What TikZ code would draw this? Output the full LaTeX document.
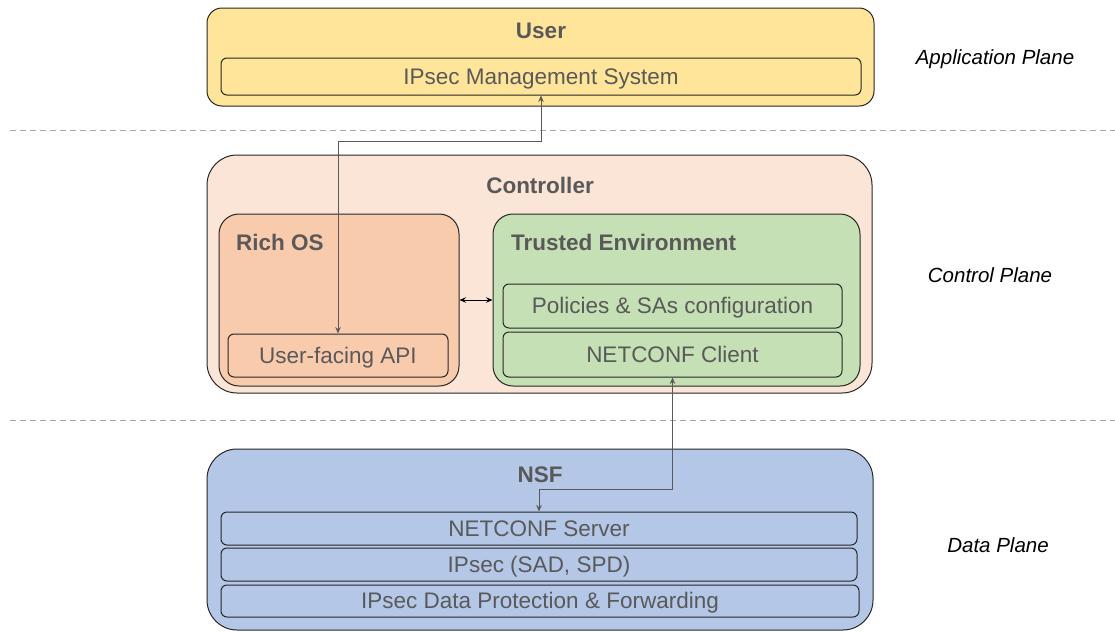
\documentclass[tikz,border=0pt]{standalone}
\usepackage{fontspec}
\setmainfont{Liberation Sans}
\usetikzlibrary{arrows.meta}
\definecolor{txt}{HTML}{595959}
\definecolor{bord}{HTML}{262626}
\definecolor{cyel}{HTML}{FFE599}
\definecolor{cpeach}{HTML}{FBE5D6}
\definecolor{crich}{HTML}{F8CBAD}
\definecolor{cgreen}{HTML}{C5E0B4}
\definecolor{cblue}{HTML}{B4C7E7}
\definecolor{cdash}{HTML}{A6A6A6}
\tikzset{
  box/.style={draw=bord, line width=1pt, inner sep=0pt, text=txt},
  inbox/.style={box, rounded corners=6pt, text height=16pt, text depth=1pt, font=\fontsize{22.5}{26}\selectfont},
  title/.style={text=txt, inner sep=0pt, font=\fontsize{22.5}{26}\selectfont\bfseries},
  plane/.style={text=black, inner sep=0pt, font=\fontsize{20.5}{24}\selectfont\itshape},
  conn/.style={draw=txt, line width=0.9pt, {Stealth[length=6.5pt,width=5.5pt]}-{Stealth[length=6.5pt,width=5.5pt]}},
  sep/.style={draw=cdash, line width=1pt, dash pattern=on 6pt off 4pt}
}
\begin{document}
\begin{tikzpicture}[x=1pt,y=-1pt]
\useasboundingbox (0,0) rectangle (1115,632);
% separators
\coordinate (s1a) at (10,130); \coordinate (s1b) at (1115,130);
\coordinate (s2a) at (10,420); \coordinate (s2b) at (1115,420);
\draw[sep] (s1a) -- (s1b);
\draw[sep] (s2a) -- (s2b);
% application plane
\node[box, fill=cyel, rounded corners=15pt, minimum width=667pt, minimum height=98pt] (user) at (540.5,57) {};
\node[title] (usert) at (541,31) {User};
\node[inbox, fill=cyel, minimum width=640pt, minimum height=37pt] (mgmt) at (541,76.5) {IPsec Management System};
\node[plane] (ap) at (995,59) {Application Plane};
% control plane
\node[box, fill=cpeach, rounded corners=30pt, minimum width=665pt, minimum height=238pt] (ctrl) at (539.5,274) {};
\node[title] (ctrlt) at (540,185) {Controller};
\node[box, fill=crich, rounded corners=20pt, minimum width=240pt, minimum height=172pt] (rich) at (339,300) {};
\node[title, anchor=west] (richt) at (236,242) {Rich OS};
\node[inbox, fill=crich, minimum width=220pt, minimum height=43pt] (api) at (338,355.5) {User-facing API};
\node[box, fill=cgreen, rounded corners=20pt, minimum width=367pt, minimum height=172pt] (trust) at (676.5,300) {};
\node[title, anchor=west] (trustt) at (511,242) {Trusted Environment};
\node[inbox, fill=cgreen, minimum width=339pt, minimum height=44pt] (pol) at (672.5,306) {Policies \& SAs configuration};
\node[inbox, fill=cgreen, minimum width=339pt, minimum height=45pt] (ncli) at (672.5,354.5) {NETCONF Client};
\node[plane] (cp) at (990,275) {Control Plane};
% data plane
\node[box, fill=cblue, rounded corners=30pt, minimum width=666pt, minimum height=181pt] (nsf) at (540,539.5) {};
\node[title] (nsft) at (540,475) {NSF};
\node[inbox, fill=cblue, minimum width=636pt, minimum height=33pt] (nsrv) at (539,528.5) {NETCONF Server};
\node[inbox, fill=cblue, minimum width=636pt, minimum height=33pt] (ipsec) at (539,564.5) {IPsec (SAD, SPD)};
\node[inbox, fill=cblue, minimum width=638pt, minimum height=32pt] (fwd) at (540,601) {IPsec Data Protection \& Forwarding};
\node[plane] (dp) at (998,545) {Data Plane};
% connectors
\coordinate (b1) at (0,141);
\coordinate (b2) at (0,489);
\draw[conn] (api.north) -- (api.north |- b1) -- (mgmt.south |- b1) -- (mgmt.south);
\draw[conn] (ncli.south) -- (ncli.south |- b2) -- (nsrv.north |- b2) -- (nsrv.north);
\draw[conn, draw=black] (rich.east) -- (trust.west);
\end{tikzpicture}
\end{document}
